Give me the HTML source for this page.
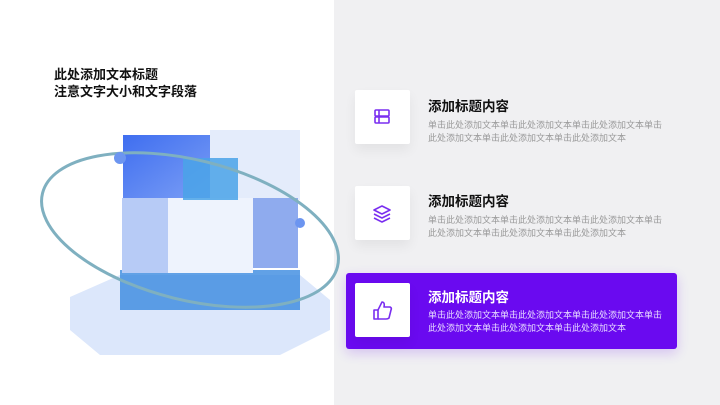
<!DOCTYPE html>
<html><head><meta charset="utf-8"><style>
body{margin:0;width:720px;height:405px;overflow:hidden;background:#fff;font-family:"Liberation Sans","Noto Sans CJK SC",sans-serif;position:relative}
.right{position:absolute;left:334px;top:0;width:386px;height:405px;background:#f0f0f2}
.h{position:absolute;left:54px;top:66px;font-size:13px;font-weight:bold;line-height:17px;color:#111}
.box{position:absolute;left:355px;width:55px;height:54px;background:#fff;border-radius:2px;box-shadow:0 6px 12px rgba(0,0,0,.06)}
.t{position:absolute;left:428px;font-size:13.5px;font-weight:bold;color:#111}
.p{position:absolute;left:428px;font-size:9px;line-height:12.5px;color:#999;width:260px;white-space:nowrap}
.card{position:absolute;left:346px;top:273px;width:331px;height:76px;background:#6a0af0;border-radius:3px;box-shadow:0 4px 12px rgba(106,10,240,.2)}
</style></head><body>
<div class="right"></div>
<div class="h">此处添加文本标题<br>注意文字大小和文字段落</div>
<svg style="position:absolute;left:0;top:0" width="340" height="405">
<defs><linearGradient id="g1" x1="0" y1="0" x2="1" y2="1"><stop offset="0" stop-color="#3f6ef0"/><stop offset="1" stop-color="#7da0f5"/></linearGradient></defs>
<path d="M70 297 L120 275 L300 275 L330 300 L330 330 L280 355 L100 355 L70 330Z" fill="#dce7fb"/>
<path d="M120 270 L300 270 L300 310 L120 310Z" fill="#3a8ae0" opacity=".8"/>
<rect x="123" y="135" width="90" height="65" fill="url(#g1)"/>
<rect x="210" y="130" width="90" height="70" fill="#e4ecfb"/>
<rect x="122" y="198" width="48" height="75" fill="#b7cbf6"/>
<rect x="168" y="198" width="85" height="75" fill="#eef3fd"/>
<rect x="253" y="198" width="45" height="70" fill="#8fabee"/>
<rect x="183" y="158" width="55" height="42" fill="#4aa3e8" opacity=".85"/>
<ellipse cx="190" cy="230" rx="152" ry="70" fill="none" stroke="#7fb0c0" stroke-width="3" transform="rotate(14 190 230)"/>
<circle cx="120" cy="158" r="6" fill="#6c95f0"/>
<circle cx="300" cy="223" r="5" fill="#6c95f0"/>
</svg>
<div class="box" style="top:90px"><svg width="55" height="54"><g fill="none" stroke="#7a2ef0" stroke-width="1.6"><rect x="20" y="20" width="14" height="6" rx="1"/><rect x="20" y="27" width="14" height="6" rx="1"/><line x1="24" y1="20" x2="24" y2="33"/></g></svg></div>
<div class="t" style="top:95px">添加标题内容</div>
<div class="p" style="top:119px">单击此处添加文本单击此处添加文本单击此处添加文本单击<br>此处添加文本单击此处添加文本单击此处添加文本</div>
<div class="box" style="top:186px"><svg width="55" height="54"><g fill="none" stroke="#7a2ef0" stroke-width="1.6" stroke-linejoin="round"><path d="M27 20 L35 24 L27 28 L19 24Z"/><path d="M19 28 L27 32 L35 28"/><path d="M19 32 L27 36 L35 32"/></g></svg></div>
<div class="t" style="top:190px">添加标题内容</div>
<div class="p" style="top:214px">单击此处添加文本单击此处添加文本单击此处添加文本单击<br>此处添加文本单击此处添加文本单击此处添加文本</div>
<div class="card"></div>
<div class="box" style="top:283px"><svg width="55" height="54"><g fill="none" stroke="#7a2ef0" stroke-width="1.6" stroke-linejoin="round"><rect x="19" y="27" width="4" height="9"/><path d="M23 27 L27 19 Q30 19 29 24 L35 24 Q37 25 36 27 L34 35 Q33 36 31 36 L23 36"/></g></svg></div>
<div class="t" style="top:286px;color:#fff">添加标题内容</div>
<div class="p" style="top:309px;color:#e8dcff">单击此处添加文本单击此处添加文本单击此处添加文本单击<br>此处添加文本单击此处添加文本单击此处添加文本</div>
</body></html>
